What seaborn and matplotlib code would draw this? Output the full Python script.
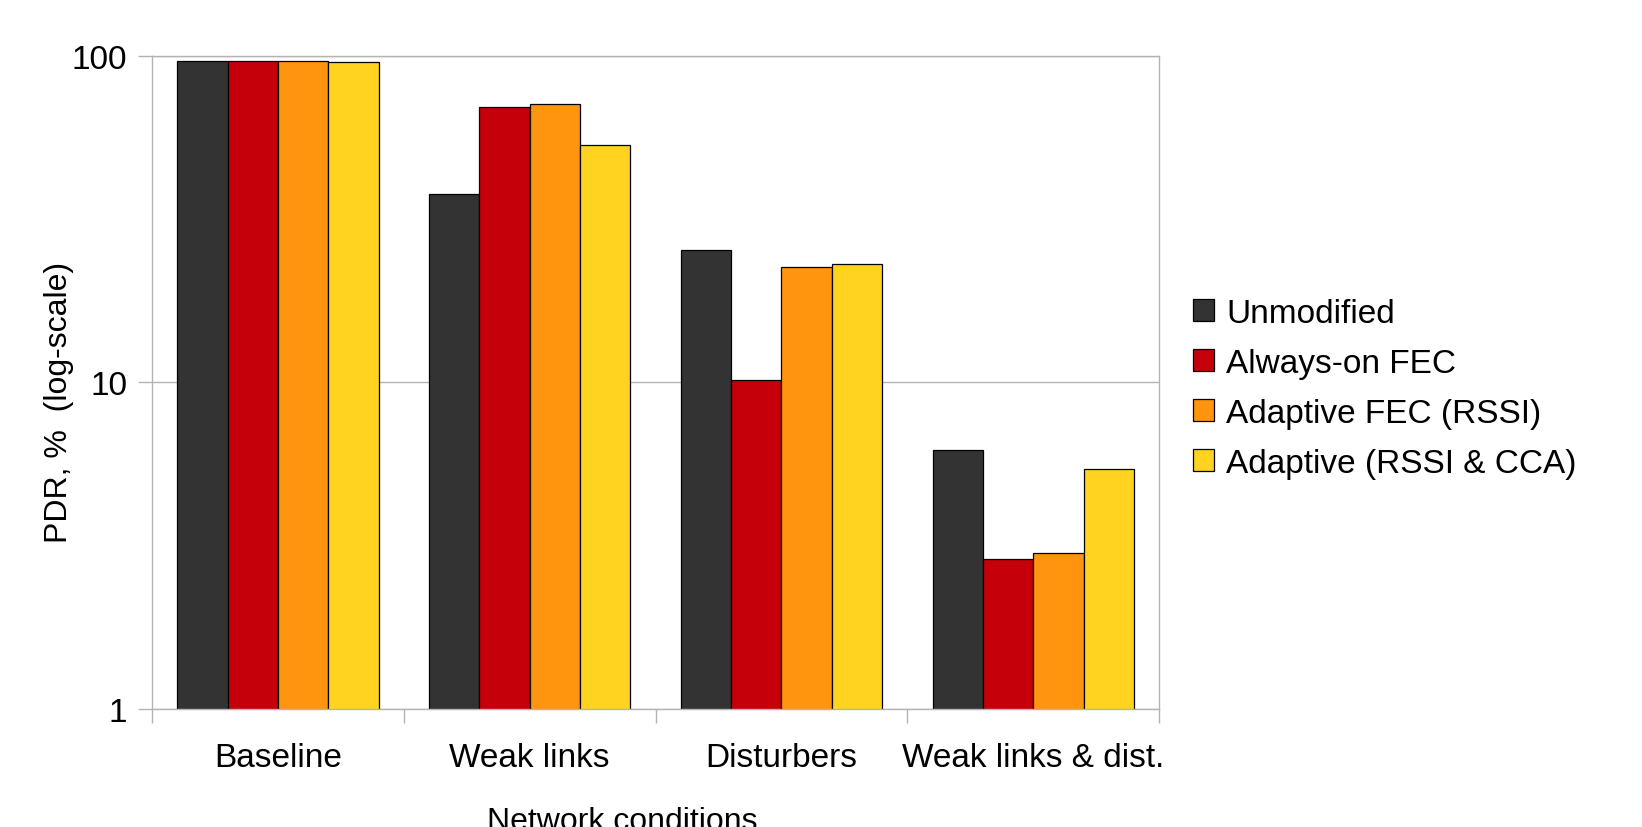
import matplotlib
matplotlib.use("Agg")
import matplotlib.pyplot as plt
import seaborn as sns
import pandas as pd
import numpy as np
from matplotlib.ticker import FixedLocator, NullFormatter, FuncFormatter

# Packet delivery ratio per network condition and FEC strategy
conditions = ["Baseline", "Weak links", "Disturbers", "Weak links & dist."]
methods = ["Unmodified", "Always-on FEC", "Adaptive FEC (RSSI)", "Adaptive (RSSI & CCA)"]
unmodified = [96.5, 37.8, 25.5, 6.2]
always_on_fec = [96.6, 69.8, 10.2, 2.89]
adaptive_fec_rssi = [96.8, 71.5, 22.6, 3.0]
adaptive_rssi_cca = [95.6, 53.5, 23.0, 5.42]
colors = ["#333333", "#c5000b", "#ff950e", "#ffd320"]

series = [unmodified, always_on_fec, adaptive_fec_rssi, adaptive_rssi_cca]
df = pd.DataFrame(
    [(c, m, v) for m, vals in zip(methods, series) for c, v in zip(conditions, vals)],
    columns=["condition", "method", "pdr"],
)

sns.set_theme(style="white")
plt.rcParams["font.family"] = ["Liberation Sans", "DejaVu Sans"]
plt.rcParams["text.color"] = "black"
plt.rcParams["axes.labelcolor"] = "black"

fig = plt.figure(figsize=(16.42, 8.28), dpi=100)
ax = fig.add_axes([0.0926, 0.1425, 0.6133, 0.7887])

sns.barplot(
    data=df, x="condition", y="pdr", hue="method", order=conditions,
    hue_order=methods, palette=colors, width=0.8,
    edgecolor="black", linewidth=0.9, saturation=1, ax=ax, legend=True,
)

ax.set_yscale("log")
ax.set_ylim(1, 100)
ax.set_xlim(-0.5, len(conditions) - 0.5)
ax.yaxis.set_major_locator(FixedLocator([1, 10, 100]))
ax.yaxis.set_minor_locator(FixedLocator([]))
ax.yaxis.set_major_formatter(FuncFormatter(lambda v, p: f"{v:g}"))
ax.yaxis.grid(True, color="#b3b3b3", linewidth=1)
ax.set_axisbelow(True)

# category boundaries carry the tick marks; labels sit at centres
ax.xaxis.set_minor_locator(FixedLocator(np.arange(-0.5, len(conditions), 1.0)))
ax.xaxis.set_minor_formatter(NullFormatter())
ax.tick_params(axis="x", which="minor", length=10, width=1, color="#b3b3b3",
               direction="out", bottom=True)
ax.tick_params(axis="x", which="major", length=0, pad=24, labelsize=24, labelcolor="black")
ax.tick_params(axis="y", which="major", length=10, width=1, color="#b3b3b3", pad=8,
               labelsize=24, labelcolor="black", left=True)

for s in ax.spines.values():
    s.set_color("#b3b3b3")
    s.set_linewidth(1)

ax.set_xlabel("Network conditions", fontsize=23)
ax.set_ylabel("PDR, %  (log-scale)", fontsize=23)
ax.xaxis.set_label_coords(0.4667, -0.148)
ax.yaxis.set_label_coords(-0.078, 0.4717)

handles, labels = ax.get_legend_handles_labels()
ax.get_legend().remove()
fig.legend(
    handles, labels, loc="center left", bbox_to_anchor=(0.7186, 0.53),
    borderaxespad=0, frameon=False, fontsize=24, handlelength=0.63,
    handleheight=0.63, handletextpad=0.36, labelspacing=0.57,
)

fig.savefig("out.png", dpi=100)
